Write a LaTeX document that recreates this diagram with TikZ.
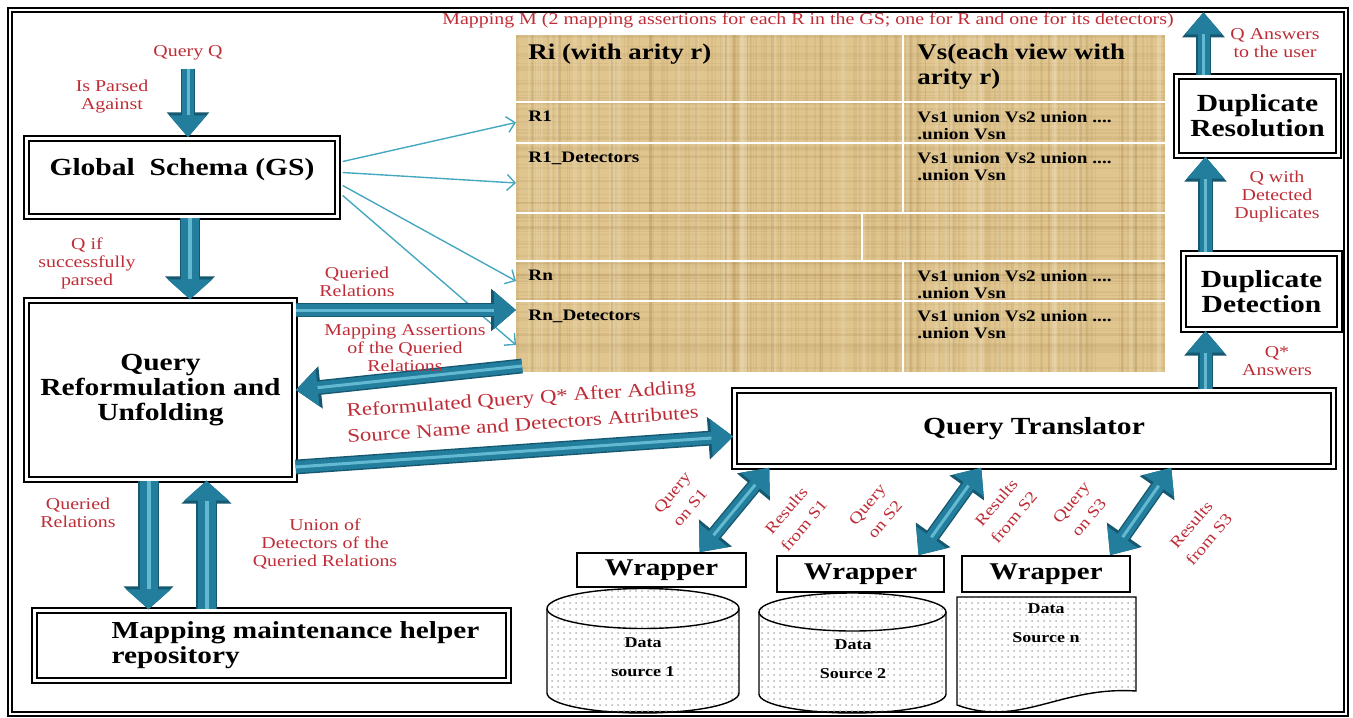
\documentclass[tikz,border=0pt]{standalone}
\usepackage{fontspec}
\setmainfont{Liberation Serif}[FakeStretch=1.2]
\usetikzlibrary{arrows.meta,shapes.geometric,patterns,positioning}

\definecolor{labelred}{RGB}{190,45,55}
\definecolor{arrowteal}{RGB}{34,126,156}
\definecolor{arrowdark}{RGB}{22,88,112}
\definecolor{arrowlight}{RGB}{100,185,210}
\definecolor{thinteal}{RGB}{70,168,192}
\definecolor{papyrus}{RGB}{224,197,143}
\definecolor{papyrusdark}{RGB}{160,125,70}

\tikzstyle{frame} = [draw, line width=1.1pt, double, double distance=0.9pt]
\tikzstyle{mainbox} = [rectangle, draw, line width=1.2pt, double, double distance=1.1pt,
    fill=white, align=center, inner sep=0pt, font=\bfseries\fontsize{12.3}{12.5}\selectfont]
\tikzstyle{boxtext} = [align=left, inner sep=0pt, font=\bfseries\fontsize{12.2}{12.5}\selectfont]
\tikzstyle{wrapbox} = [rectangle, draw, line width=0.8pt, fill=white, inner sep=0pt,
    font=\bfseries\fontsize{12}{12}\selectfont]
\tikzstyle{docshape} = [draw, line width=0.7pt, pattern=dots, pattern color=gray!60]
\tikzstyle{srctext} = [align=center, inner sep=0pt, font=\bfseries\fontsize{7.5}{9}\selectfont]
\tikzstyle{cell} = [rectangle, fill=papyrus, anchor=north west, inner sep=0pt, outer sep=0pt]
\tikzstyle{hdrtext} = [anchor=north west, align=left, inner sep=0pt, font=\bfseries\fontsize{11.2}{12.5}\selectfont]
\tikzstyle{celltext} = [anchor=north west, align=left, inner sep=0pt, font=\bfseries\fontsize{8}{8.5}\selectfont]
\tikzstyle{lbl} = [text=labelred, align=center, inner sep=0pt, font=\fontsize{8.3}{9}\selectfont]
\tikzstyle{rlbl} = [lbl, rotate=50, font=\fontsize{8}{11.5}\selectfont]
\tikzstyle{bigarrow} = [draw=arrowteal, line width=6pt, -{Triangle[length=11pt,width=18pt]},
    preaction={draw=arrowdark, line width=7.4pt, -{Triangle[length=12.5pt,width=20.5pt]}},
    postaction={draw=arrowlight, line width=1.5pt, -, shorten >=11pt}]
\tikzstyle{fatarrow} = [draw=arrowteal, line width=9pt, -{Triangle[length=10pt,width=22pt]},
    preaction={draw=arrowdark, line width=10.4pt, -{Triangle[length=11.5pt,width=24.5pt]}},
    postaction={draw=arrowlight, line width=2pt, -, shorten >=10pt}]
\tikzstyle{bigdarrow} = [draw=arrowteal, line width=6pt, {Triangle[length=11pt,width=18pt]}-{Triangle[length=11pt,width=18pt]},
    preaction={draw=arrowdark, line width=7.4pt, {Triangle[length=12.5pt,width=20.5pt]}-{Triangle[length=12.5pt,width=20.5pt]}},
    postaction={draw=arrowlight, line width=1.5pt, -, shorten >=11pt, shorten <=11pt}]
\tikzstyle{thinarrow} = [draw=thinteal, line width=0.7pt, -{Straight Barb[length=4pt,width=8pt]}]

\begin{document}
\begin{tikzpicture}[x=0.5pt, y=-0.5pt]
    \useasboundingbox (0,0) rectangle (1353,717);
    \draw[frame] (10,10) rectangle (1346,714);

    % Mapping table
    \node[cell, minimum width=193pt, minimum height=33pt] (hdrL) at (516,35) {};
    \node[cell, minimum width=130.5pt, minimum height=33pt] (hdrR) at (904,35) {};
    \node[cell, minimum width=193pt, minimum height=19.5pt] (r1L) at (516,103) {};
    \node[cell, minimum width=130.5pt, minimum height=19.5pt] (r1R) at (904,103) {};
    \node[cell, minimum width=193pt, minimum height=34pt] (r1dL) at (516,144) {};
    \node[cell, minimum width=130.5pt, minimum height=34pt] (r1dR) at (904,144) {};
    \node[cell, minimum width=172.5pt, minimum height=23pt] (blkL) at (516,214) {};
    \node[cell, minimum width=151pt, minimum height=23pt] (blkR) at (863,214) {};
    \node[cell, minimum width=193pt, minimum height=19pt] (rnL) at (516,262) {};
    \node[cell, minimum width=130.5pt, minimum height=19pt] (rnR) at (904,262) {};
    \node[cell, minimum width=193pt, minimum height=35pt] (rndL) at (516,302) {};
    \node[cell, minimum width=130.5pt, minimum height=35pt] (rndR) at (904,302) {};

    % papyrus grain
    \begin{scope}
        \clip (516,35) rectangle (1165,372);
        \pgfmathsetseed{4211}
        \foreach \k in {1,...,160} {
            \pgfmathsetmacro\gx{516+rnd*649}
            \pgfmathsetmacro\gw{0.3+rnd*1.2}
            \draw[papyrusdark, opacity=0.11, line width=\gw pt] (\gx,35) -- (\gx,372);
        }
        \foreach \k in {1,...,110} {
            \pgfmathsetmacro\gy{35+rnd*337}
            \pgfmathsetmacro\gw{0.3+rnd*0.9}
            \draw[papyrusdark, opacity=0.1, line width=\gw pt] (516,\gy) -- (1165,\gy);
        }
        \foreach \k in {1,...,40} {
            \pgfmathsetmacro\gx{516+rnd*649}
            \draw[white, opacity=0.12, line width=2pt] (\gx,35) -- (\gx,372);
        }
    \end{scope}
    \draw[white, line width=1.1pt] (516,102) -- (1165,102) (516,143) -- (1165,143) (516,213) -- (1165,213)
        (516,261) -- (1165,261) (516,301) -- (1165,301)
        (903,35) -- (903,213) (862,213) -- (862,261) (903,261) -- (903,372);

    \node[hdrtext] (ri) at ([shift={(6pt,-4.5pt)}]hdrL.north west) {Ri (with arity r)};
    \node[hdrtext] (vs) at ([shift={(6.5pt,-4.5pt)}]hdrR.north west) {Vs(each view with\\arity r)};
    \node[celltext] (r1) at ([shift={(6pt,-4pt)}]r1L.north west) {R1};
    \node[celltext] (r1d) at ([shift={(6pt,-4pt)}]r1dL.north west) {R1\_Detectors};
    \node[celltext] (rn) at ([shift={(6pt,-4pt)}]rnL.north west) {Rn};
    \node[celltext] (rnd) at ([shift={(6pt,-4pt)}]rndL.north west) {Rn\_Detectors};
    \node[celltext] (v1) at ([shift={(6.5pt,-4pt)}]r1R.north west) {Vs1 union Vs2 union ....\\.union Vsn};
    \node[celltext] (v1d) at ([shift={(6.5pt,-4pt)}]r1dR.north west) {Vs1 union Vs2 union ....\\.union Vsn};
    \node[celltext] (vn) at ([shift={(6.5pt,-4pt)}]rnR.north west) {Vs1 union Vs2 union ....\\.union Vsn};
    \node[celltext] (vnd) at ([shift={(6.5pt,-4pt)}]rndR.north west) {Vs1 union Vs2 union ....\\.union Vsn};
    \node[lbl] (mapm) at (808,20) {Mapping M (2 mapping assertions for each R in the GS; one for R and one for its detectors)};

    % Place nodes
    \node[mainbox, minimum width=155.5pt, minimum height=39pt, text depth=11pt] (gs) at (182,177.5) {Global\ \ Schema (GS)};
    \node[mainbox, minimum width=134pt, minimum height=89.5pt] (qru) at (160.5,390) {Query\\Reformulation and\\Unfolding};
    \node[mainbox, minimum width=237pt, minimum height=35pt] (mm) at (271.5,645.5) {};
    \node[boxtext, anchor=west] (mmtext) at ([xshift=39pt]mm.west) {Mapping maintenance helper\\repository};
    \node[mainbox, minimum width=299.5pt, minimum height=38pt] (qt) at (1034,428.5) {Query Translator};
    \node[mainbox, minimum width=81pt, minimum height=39.5pt] (dr) at (1257.5,116) {Duplicate\\Resolution};
    \node[mainbox, minimum width=78pt, minimum height=38pt] (dd) at (1261.5,291.5) {Duplicate\\Detection};

    % data sources
    \path[docshape] (547,608.5) -- (547,693) arc[start angle=180, end angle=360, x radius=48pt, y radius=10pt]
        -- (739,608.5) arc[start angle=0, end angle=180, x radius=48pt, y radius=10pt] -- cycle;
    \draw[line width=0.7pt] (547,608.5) arc[start angle=180, end angle=360, x radius=48pt, y radius=10pt];
    \path[docshape] (759,612) -- (759,694) arc[start angle=180, end angle=360, x radius=46.75pt, y radius=9.5pt]
        -- (946,612) arc[start angle=0, end angle=180, x radius=46.75pt, y radius=9.5pt] -- cycle;
    \draw[line width=0.7pt] (759,612) arc[start angle=180, end angle=360, x radius=46.75pt, y radius=9.5pt];
    \path[docshape] (957,597) -- (1136,597) -- (1136,691) .. controls (1060,686) and (1020,728) .. (957,705) -- cycle;
    \node[srctext] (ds1t) at (643,657.5) {Data\\[5.5pt]source 1};
    \node[srctext] (ds2t) at (853,659.5) {Data\\[5.5pt]Source 2};
    \node[srctext] (dsnt) at (1046,623.5) {Data\\[5.5pt]Source n};

    % wrappers
    \node[wrapbox, minimum width=84.5pt, minimum height=17pt] (w1) at (661.5,570) {Wrapper};
    \node[wrapbox, minimum width=83.5pt, minimum height=18pt] (w2) at (860.5,574) {Wrapper};
    \node[wrapbox, minimum width=84pt, minimum height=18pt] (w3) at (1046,574) {Wrapper};

    % GS relations to the table
    \draw[thinarrow] ([xshift=2pt,yshift=8pt]gs.east) -- (r1L.west);
    \draw[thinarrow] ([xshift=2pt,yshift=2.5pt]gs.east) -- ([yshift=-2.5pt]r1dL.west);
    \draw[thinarrow] ([xshift=2pt,yshift=-4pt]gs.east) -- (rnL.west);
    \draw[thinarrow] ([xshift=2pt,yshift=-9pt]gs.east) -- ([yshift=-4pt]rndL.west);

    % query flow
    \node[lbl] (qq) at (188,53) {Query Q};
    \node[lbl] (parsed) at (112,97) {Is Parsed\\Against};
    \coordinate (qqs) at ([yshift=-4pt]qq.south);
    \draw[bigarrow] (qqs) -- (qqs |- gs.north);
    \coordinate (gsq) at ([xshift=4pt]gs.south);
    \draw[fatarrow] (gsq) -- (gsq |- qru.north);
    \node[lbl] (qifp) at (87,263) {Q if\\successfully\\parsed};

    \coordinate (rqtip) at ([yshift=-4pt]rndL.north west);
    \draw[bigarrow] (qru.east |- rqtip) -- (rqtip);
    \draw[bigarrow] ([xshift=3pt,yshift=3pt]rndL.south west) -- (qru.east);
    \node[lbl] (qrel) at (357,282) {Queried\\Relations};
    \node[lbl] (mapas) at (405,348) {Mapping Assertions\\of the Queried\\Relations};

    \draw[bigarrow] ([yshift=-38.5pt]qru.east) -- ([yshift=-4pt]qt.west);
    \node[lbl, rotate=4, font=\fontsize{9.5}{13}\selectfont] (reform) at (522,411) {Reformulated Query Q* After Adding\\Source Name and Detectors Attributes};

    \coordinate (qrdown) at ([xshift=-6pt]qru.south);
    \coordinate (qrup) at ([xshift=23pt]qru.south);
    \draw[fatarrow] (qrdown) -- (qrdown |- mm.north);
    \draw[fatarrow] (qrup |- mm.north) -- (qrup);
    \node[lbl] (qrel2) at (78,513) {Queried\\Relations};
    \node[lbl] (union) at (325,544) {Union of\\Detectors of the\\Queried Relations};

    % translator to wrappers
    \draw[bigdarrow] ([xshift=19pt]w1.north) -- ([xshift=18pt]qt.south west);
    \draw[bigdarrow] ([xshift=29pt]w2.north) -- ([xshift=124pt]qt.south west);
    \draw[bigdarrow] ([xshift=32pt]w3.north) -- ([xshift=219pt]qt.south west);
    \node[rlbl] (qs1) at (681,500) {Query\\on S1};
    \node[rlbl] (rs1) at (795,518) {Results\\from S1};
    \node[rlbl] (qs2) at (876,512) {Query\\on S2};
    \node[rlbl] (rs2) at (1005,510) {Results\\from S2};
    \node[rlbl] (qs3) at (1080,510) {Query\\on S3};
    \node[rlbl] (rs3) at (1200,532) {Results\\from S3};

    % answers back to the user
    \coordinate (dupx) at ([xshift=-28pt]dd.south);
    \coordinate (dupy) at ([xshift=-28pt]dd.north);
    \coordinate (resx) at ([xshift=-27pt]dr.north);
    \coordinate (user) at ([yshift=31.5pt]resx);
    \draw[bigarrow] (dupx |- qt.north) -- (dupx);
    \draw[bigarrow] (dupy) -- (dupy |- dr.south);
    \draw[bigarrow] (resx) -- (user);
    \node[lbl] (qstar) at (1277,361) {Q*\\Answers};
    \node[lbl] (qdet) at (1277,197) {Q with\\Detected\\Duplicates};
    \node[lbl] (qans) at (1275,43) {Q Answers\\to the user};
\end{tikzpicture}
\end{document}
